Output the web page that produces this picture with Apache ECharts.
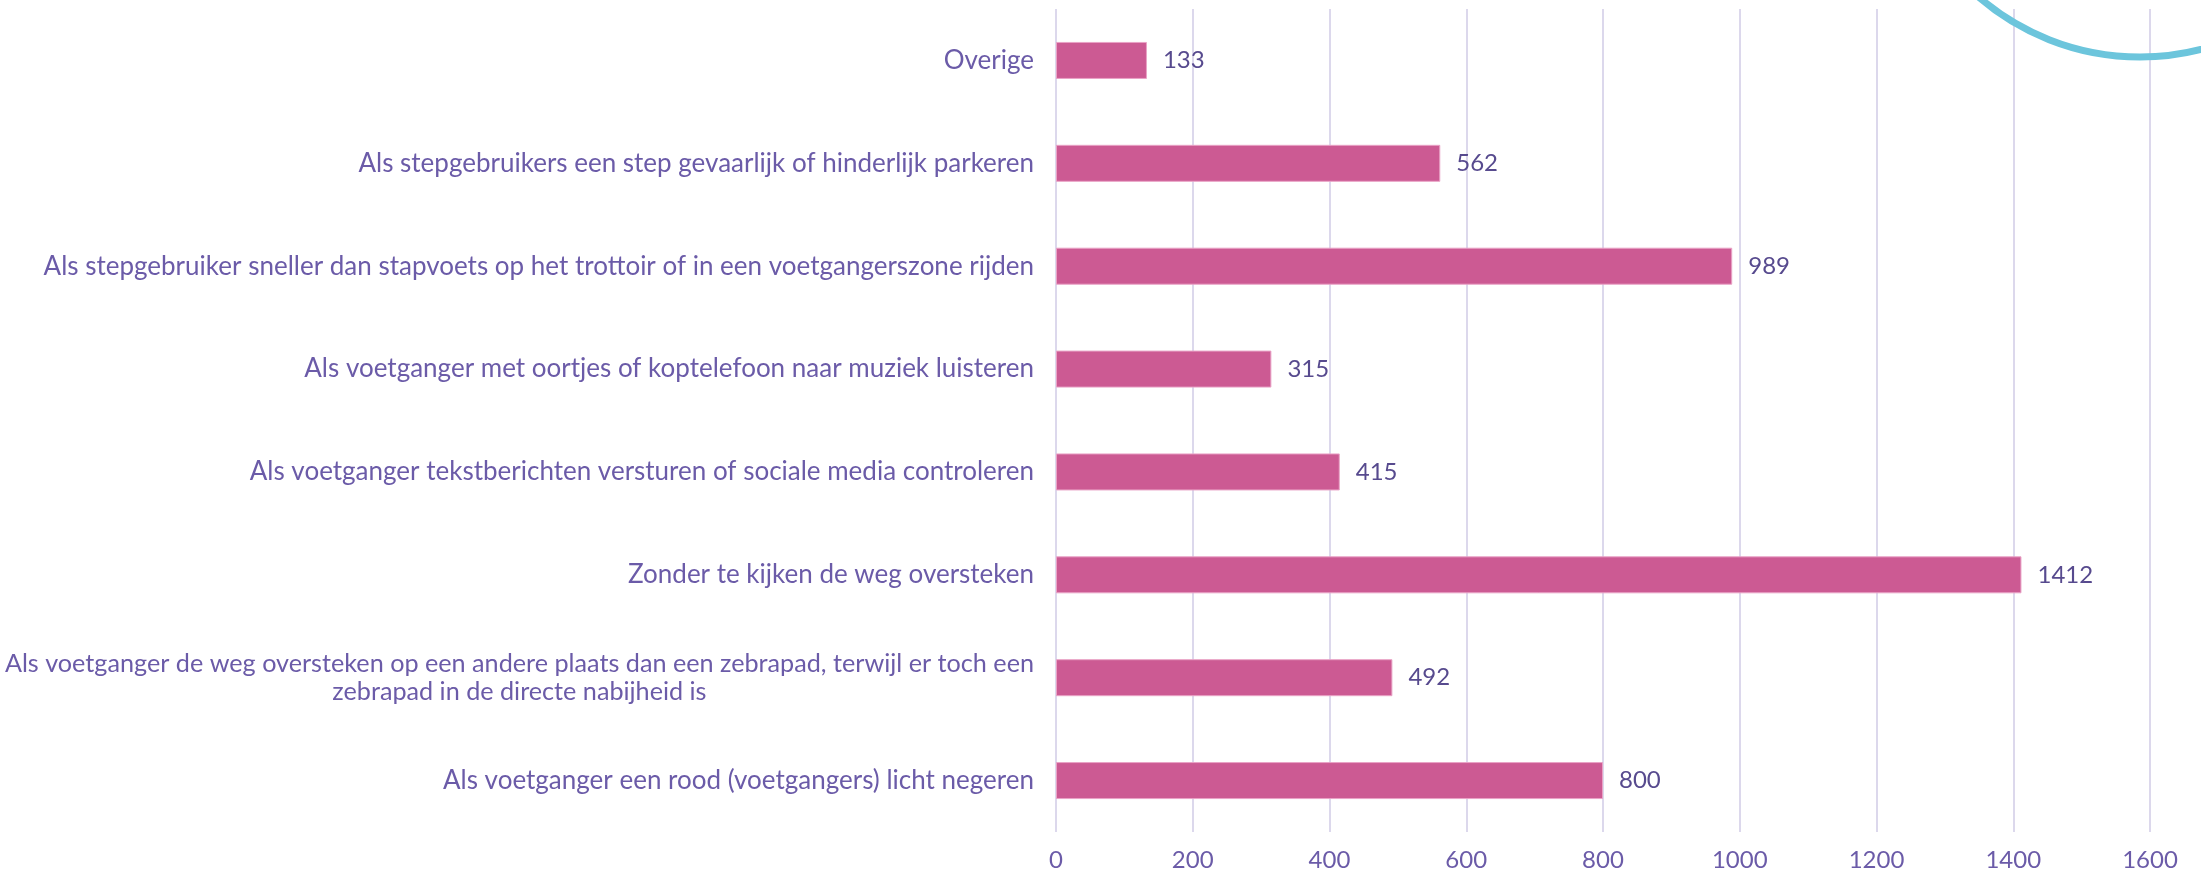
<!DOCTYPE html>
<html>
<head>
<meta charset="utf-8">
<script src="https://cdn.jsdelivr.net/npm/echarts@6/dist/echarts.min.js"></script>
<style>
  html, body { margin: 0; padding: 0; background: #ffffff; }
  #chart { width: 2201px; height: 873px; }
</style>
</head>
<body>
<div id="chart"></div>
<script>
// Categories listed bottom to top (ECharts category y-axis starts at the bottom)
const categories = [
  'Als voetganger een rood (voetgangers) licht negeren',
  'Als voetganger de weg oversteken op een andere plaats dan een zebrapad, terwijl er toch een\nzebrapad in de directe nabijheid is',
  'Zonder te kijken de weg oversteken',
  'Als voetganger tekstberichten versturen of sociale media controleren',
  'Als voetganger met oortjes of koptelefoon naar muziek luisteren',
  'Als stepgebruiker sneller dan stapvoets op het trottoir of in een voetgangerszone rijden',
  'Als stepgebruikers een step gevaarlijk of hinderlijk parkeren',
  'Overige'
];
const counts = [800, 492, 1412, 415, 315, 989, 562, 133];
const axisMax = 1600;
const axisStep = 200;

const FONT = 'Lato';
const LABEL_COLOR = '#6b5ba8';
const chart = echarts.init(document.getElementById('chart'), null, { renderer: 'canvas' });

chart.setOption({
  backgroundColor: '#ffffff',
  animation: false,
  grid: {
    left: 1056, right: 51, top: 9, bottom: 41,
    containLabel: false,
    outerBoundsMode: 'none'
  },
  xAxis: {
    type: 'value',
    min: 0,
    max: axisMax,
    interval: axisStep,
    axisLine: { show: false },
    axisTick: { show: false },
    splitLine: { show: true, lineStyle: { color: '#dcd8ec', width: 2 } },
    axisLabel: {
      color: LABEL_COLOR, fontFamily: FONT, fontSize: 24, margin: 16,
      formatter: function (v) { return String(v); }
    }
  },
  yAxis: {
    type: 'category',
    data: categories,
    axisLine: { show: false },
    axisTick: { show: false },
    axisLabel: {
      color: LABEL_COLOR,
      fontFamily: FONT,
      fontSize: 26,
      margin: 22,
      lineHeight: 28,
      // wrapped labels: lines centred on each other, block right-aligned to the axis
      formatter: function (v) {
        const lines = v.split('\n');
        const tag = lines.length > 1 ? 'm' : 'c';
        return lines.map(function (s) { return '{' + tag + '|' + s + '}'; }).join('\n');
      },
      rich: {
        c: { align: 'center', color: LABEL_COLOR, fontFamily: FONT, fontSize: 26, lineHeight: 28 },
        m: { align: 'center', color: LABEL_COLOR, fontFamily: FONT, fontSize: 25.2, lineHeight: 28 }
      }
    }
  },
  series: [{
    type: 'bar',
    data: counts,
    barWidth: 37,
    itemStyle: { color: '#cc5a93', borderColor: '#e9a3c6', borderWidth: 1 },
    label: {
      show: true,
      position: 'right',
      distance: 16,
      color: '#574a8e',
      fontFamily: FONT,
      fontSize: 24
    }
  }],
  graphic: [{
    type: 'circle',
    shape: { cx: 2140, cy: -190, r: 247 },
    style: { fill: 'none', stroke: '#6cc5dc', lineWidth: 7 },
    z: 10
  }]
});
</script>
</body>
</html>
